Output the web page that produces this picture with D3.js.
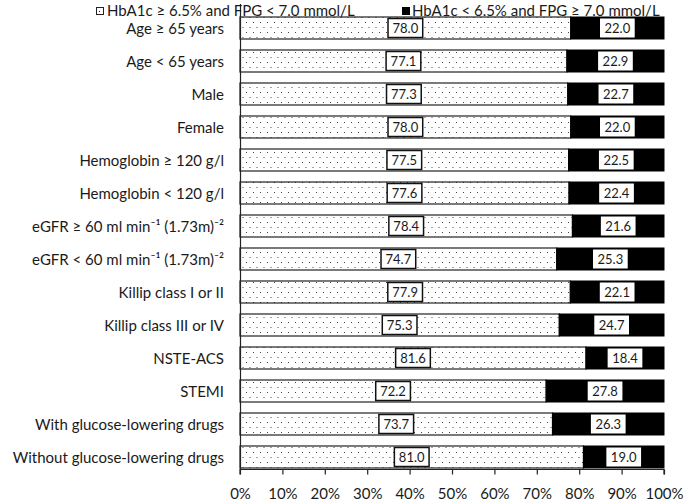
<!DOCTYPE html>
<html><head><meta charset="utf-8">
<script src="https://cdn.jsdelivr.net/npm/d3@7"></script>
<style>body{margin:0;background:#fff}svg{display:block}text{font-family:Lato,"Open Sans",sans-serif;fill:#1a1a1a}</style>
</head><body><svg id="c" width="685" height="503"></svg>
<script>
const categories = ["Age \u2265 65 years","Age < 65 years","Male","Female","Hemoglobin \u2265 120 g/l","Hemoglobin < 120 g/l",
"eGFR \u2265 60 ml min\u207B\u00B9 (1.73m)\u207B\u00B2","eGFR < 60 ml min\u207B\u00B9 (1.73m)\u207B\u00B2","Killip class I or II","Killip class III or IV",
"NSTE-ACS","STEMI","With glucose-lowering drugs","Without glucose-lowering drugs"];
const highA1c = [78.0,77.1,77.3,78.0,77.5,77.6,78.4,74.7,77.9,75.3,81.6,72.2,73.7,81.0];
const highFPG = [22.0,22.9,22.7,22.0,22.5,22.4,21.6,25.3,22.1,24.7,18.4,27.8,26.3,19.0];
const seriesNames = ["HbA1c \u2265 6.5% and FPG < 7.0 mmol/L","HbA1c < 6.5% and FPG \u2265 7.0 mmol/L"];
const tickValues = [0,10,20,30,40,50,60,70,80,90,100];

const svg = d3.select("#c");
const defs = svg.append("defs");
const pat = defs.append("pattern").attr("id","dots").attr("patternUnits","userSpaceOnUse").attr("width",7).attr("height",10);
pat.append("rect").attr("width",7).attr("height",10).attr("fill","#fff");
pat.append("rect").attr("x",1).attr("y",2).attr("width",1).attr("height",1).attr("fill","#444");
pat.append("rect").attr("x",4.5).attr("y",7).attr("width",1).attr("height",1).attr("fill","#444");

const x = d3.scaleLinear().domain([0,100]).range([240,664]);
const y = d3.scaleBand().domain(categories).range([11.5,473.5]).paddingInner(1/3).paddingOuter(1/6);
const axisY = 469.5;

const rows = categories.map((c,i)=>({c, a:highA1c[i], b:highFPG[i]}));

const g = svg.append("g");
g.selectAll("rect.a").data(rows).join("rect").attr("class","a")
 .attr("x",x(0)).attr("y",d=>y(d.c)).attr("width",d=>x(d.a)-x(0)).attr("height",y.bandwidth())
 .attr("fill","url(#dots)").attr("stroke","#222").attr("stroke-width",1.2);
g.selectAll("rect.b").data(rows).join("rect").attr("class","b")
 .attr("x",d=>x(d.a)).attr("y",d=>y(d.c)).attr("width",d=>x(d.a+d.b)-x(d.a)).attr("height",y.bandwidth())
 .attr("fill","#000").attr("stroke","#000").attr("stroke-width",1);

function addLabel(val, cx, cy, border){
  const t = g.append("text").attr("x",cx).attr("y",cy).attr("text-anchor","middle").attr("dominant-baseline","central")
    .style("font-size","13px").text(val.toFixed(1));
  const w = t.node().getComputedTextLength();
  g.insert("rect", function(){return t.node();}).attr("x",cx-w/2-4.5).attr("y",cy-9.5).attr("width",w+9).attr("height",19)
    .attr("fill","#fff").attr("stroke",border?"#111":"none").attr("stroke-width",1.5);
}
rows.forEach(d=>{
  const cy = y(d.c)+y.bandwidth()/2;
  addLabel(d.a, (x(0)+x(d.a))/2, cy, true);
  addLabel(d.b, (x(d.a)+x(d.a+d.b))/2, cy, false);
});

svg.append("line").attr("x1",240.5).attr("x2",240.5).attr("y1",4).attr("y2",axisY).attr("stroke","#222").attr("stroke-width",1.2);
svg.selectAll("text.cat").data(categories).join("text").attr("class","cat")
 .attr("x",224).attr("y",d=>y(d)+y.bandwidth()/2).attr("text-anchor","end").attr("dominant-baseline","central")
 .style("font-size","15px").text(d=>d);

const xa = svg.append("g").attr("transform",`translate(0,${axisY})`)
 .call(d3.axisBottom(x).tickValues(tickValues).tickSize(5).tickPadding(14).tickFormat(d=>d+"%"));
xa.select(".domain").attr("stroke","#222").attr("stroke-width",1.2).attr("d",`M${x(0)},5V0H${x(100)}V5`);
xa.selectAll(".tick line").attr("stroke","#222").attr("stroke-width",1.2);
xa.selectAll(".tick text").style("font-size","15px").style("font-family","Lato,'Open Sans',sans-serif").attr("fill","#1a1a1a");

const leg = svg.append("g");
leg.append("rect").attr("x",96.5).attr("y",7.5).attr("width",7).attr("height",7).attr("fill","#fff").attr("stroke","#222");
leg.append("rect").attr("x",99).attr("y",11).attr("width",1).attr("height",1).attr("fill","#222");
leg.append("text").attr("x",107).attr("y",15.5).style("font-size","15px").text(seriesNames[0]);
leg.append("rect").attr("x",402).attr("y",7).attr("width",8).attr("height",8).attr("fill","#000");
leg.append("text").attr("x",412).attr("y",15.5).style("font-size","15px").text(seriesNames[1]);
</script></body></html>
